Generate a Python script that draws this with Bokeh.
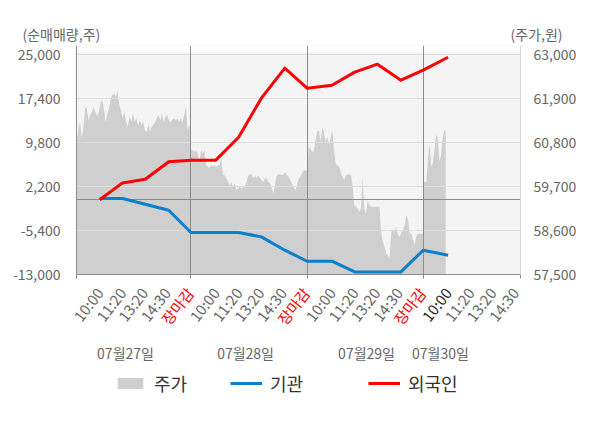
import numpy as np
from bokeh.plotting import figure
from bokeh.layouts import column
from bokeh.models import (Range1d, LinearAxis, FixedTicker, NumeralTickFormatter,
                          Legend, LegendItem, Plot)
from bokeh.core.properties import value
from bokeh.embed import file_html
from bokeh.resources import INLINE

# ---------------- data ----------------
DAYS = ["07월27일", "07월28일", "07월29일", "07월30일"]
TICK_LABELS = ["10:00", "11:20", "13:20", "14:30", "장마감"]
DAY4_TICKS = ["10:00", "11:20", "13:20", "14:30"]

# 순매매량 (주) at 10:00, 11:20, 13:20, 14:30, 장마감 of each day, then 07/30 10:00
INST = [110, 110, -870, -1910, -5760,
        -5760, -5760, -6510, -8810, -10710,
        -10710, -12550, -12550, -12550, -8810,
        -9670]
FOREIGN = [-100, 2800, 3440, 6460, 6720,
           6720, 10680, 17410, 22590, 19140,
           19650, 21900, 23280, 20520, 22240,
           24480]

# intraday price (원)
PRICE_D1 = [60900, 60770, 61100, 61310, 60900, 61150, 61690, 61640, 61350, 61480,
            61560, 61690, 61560, 61440, 61560, 61770, 61870, 61640, 61310, 61520,
            61640, 61890, 61980, 62020, 61940, 62090, 61730, 61600, 61400, 61560,
            61310, 61190, 61440, 61310, 61520, 61310, 61400, 61230, 61350, 61230,
            61310, 61100, 61060, 61230, 61060, 61190, 61230, 61310, 61400, 61480,
            61350, 61520, 61310, 61440, 61480, 61350, 61310, 61350, 61400, 61350,
            61400, 61310, 61400, 61310, 61480, 61690, 61100, 61230, 60980]
PRICE_D2 = [60600, 60600, 60560, 60600, 60520, 60310, 60600, 60520, 60600, 60230,
            60190, 60150, 60230, 60190, 60230, 60190, 60230, 60230, 60400, 59980,
            59980, 59900, 59810, 59730, 59810, 59690, 59770, 59600, 59650, 59690,
            59650, 59690, 59690, 59810, 59980, 60000, 60000, 59900, 59980, 59900,
            59980, 59900, 59850, 59810, 59900, 59900, 59810, 59770, 59650, 59520,
            59770, 59980, 60000, 60000, 59980, 60000, 60060, 59980, 59940, 59850,
            59770, 59690, 59600, 59730, 59900, 59940, 60020, 60100, 60100, 60100]
PRICE_D3 = [60100, 60690, 60640, 60560, 60600, 60850, 61060, 61100, 60810, 61190,
            61060, 60810, 60940, 60730, 60900, 61100, 60600, 60270, 60230, 60190,
            60060, 59940, 59850, 59980, 60000, 60000, 59980, 59770, 59230, 59190,
            59150, 59060, 59150, 59900, 59150, 59020, 59360, 59230, 59190, 59190,
            59190, 59190, 59190, 59190, 58560, 58310, 58190, 58020, 57980, 57900,
            58560, 58610, 58560, 58690, 58480, 58440, 58560, 58610, 58730, 58980,
            58860, 58520, 58520, 58360, 58230, 58480, 58520, 58520, 58520, 58520]
PRICE_D4 = [59810, 59810, 59810, 60440, 60770, 60190, 60270, 60600, 60980, 60940,
            60310, 60440, 60850, 61100, 61060]

LEFT_TICKS = [-13000, -5400, 2200, 9800, 17400, 25000]
RIGHT_TICKS = [57500, 58600, 59700, 60800, 61900, 63000]

# ---------------- layout ----------------
W = 600
TOP_H = 45
BL, BR, BB = 76, 80, 10
FRAME_H = 229
MAIN_H = FRAME_H + BB
BOT_H = 428 - TOP_H - MAIN_H
FRAME_W = W - BL - BR
BOT_Y0 = TOP_H + MAIN_H               # page y where the bottom panel starts

X0 = 0.069
X1 = X0 + FRAME_W / 23.22
XPX = (X1 - X0) / FRAME_W            # x units per pixel
XL = X0 - BL * XPX                    # full-width ranges with the same scale
XR = X1 + BR * XPX
L0 = -13000
L1 = L0 + FRAME_H * 172.49
P0 = 57500
P1 = P0 + FRAME_H * 24.966
PLOT_TOP = 25400
DAY_LEN = 5
POINT_SLOTS = [1.07, 2.05, 3.03, 4.04, 5.0]
LABEL_SLOTS = [1.06, 2.04, 2.98, 3.95, 4.95]
DAY4_SPAN = 0.97
DATE_POS = [2.18, 7.35, 12.56, 15.74]

FONT = "Noto Sans CJK KR"
GRAY_TXT = "#666666"
AREA_COL = "#cfcfcf"
BLUE = "#0a7fcc"
RED = "#ff0000"

HAS_FRAME_ALIGN = "frame_align" in Plot.properties()

# x positions
net_x = [d * DAY_LEN + POINT_SLOTS[i % 5] for d in range(4) for i in range(5)][:len(INST)]

px_list, pp_list = [], []
for d, arr in enumerate([PRICE_D1, PRICE_D2, PRICE_D3]):
    px_list.append(np.linspace(d * DAY_LEN, (d + 1) * DAY_LEN, len(arr)))
    pp_list.append(np.array(arr, dtype=float))
px_list.append(np.linspace(3 * DAY_LEN, 3 * DAY_LEN + DAY4_SPAN, len(PRICE_D4)))
pp_list.append(np.array(PRICE_D4, dtype=float))
price_x = np.concatenate(px_list)
price_y = np.concatenate(pp_list)


def bare(fig):
    fig.axis.visible = False
    fig.xgrid.visible = False
    fig.ygrid.visible = False
    fig.outline_line_color = None
    fig.background_fill_color = "white"
    fig.border_fill_color = "white"
    if HAS_FRAME_ALIGN:
        fig.frame_align = False


# ---------------- top: axis titles ----------------
top = figure(width=W, height=TOP_H, output_backend="svg", toolbar_location=None,
             x_range=Range1d(XL, XR), y_range=Range1d(TOP_H, 0), min_border=0)
bare(top)
top.text(x=[XL + 22 * XPX], y=[33], text=["(순매매량,주)"], text_align="left",
         text_baseline="middle", text_font=value(FONT), text_font_size="14px",
         text_color=GRAY_TXT)
top.text(x=[XL + 562 * XPX], y=[33], text=["(주가,원)"], text_align="right",
         text_baseline="middle", text_font=value(FONT), text_font_size="14px",
         text_color=GRAY_TXT)

# ---------------- main chart ----------------
p = figure(width=W, height=MAIN_H, output_backend="svg", toolbar_location=None,
           x_range=Range1d(X0, X1), y_range=Range1d(L0, L1),
           min_border_left=BL, min_border_right=BR, min_border_top=0, min_border_bottom=BB,
           background_fill_color="#f4f4f4", border_fill_color="white",
           outline_line_color=None)
if HAS_FRAME_ALIGN:
    p.frame_align = False
p.extra_y_ranges = {"price": Range1d(P0, P1)}
p.xgrid.visible = False
p.ygrid.visible = False

p.quad(left=[X0], right=[X1], bottom=[PLOT_TOP], top=[L1], fill_color="white", line_color=None)
area = p.varea(x=price_x, y1=P0, y2=price_y, fill_color=AREA_COL, y_range_name="price")
p.hspan(y=LEFT_TICKS[1:], line_color="#dddddd", line_width=1)
p.hspan(y=[0], line_color="#8c8c8c", line_width=1)
p.vspan(x=[DAY_LEN, 2 * DAY_LEN, 3 * DAY_LEN], line_color="#8c8c8c", line_width=1)
p.line(net_x, INST, line_color=BLUE, line_width=3, line_join="round")
p.line(net_x, FOREIGN, line_color=RED, line_width=3, line_join="round")

ya = p.yaxis[0]
ya.ticker = FixedTicker(ticks=LEFT_TICKS)
ya.formatter = NumeralTickFormatter(format="0,0")
ya.axis_line_color = "#8c8c8c"
ya.major_tick_line_color = None
ya.minor_tick_line_color = None
ya.major_label_standoff = 10
ya.major_label_text_font = FONT
ya.major_label_text_font_size = "14px"
ya.major_label_text_color = GRAY_TXT

ra = LinearAxis(y_range_name="price")
ra.ticker = FixedTicker(ticks=RIGHT_TICKS)
ra.formatter = NumeralTickFormatter(format="0,0")
ra.axis_line_color = "#d9d9d9"
ra.major_tick_line_color = None
ra.minor_tick_line_color = None
ra.major_label_standoff = 7
ra.major_label_text_font = FONT
ra.major_label_text_font_size = "14px"
ra.major_label_text_color = GRAY_TXT
p.add_layout(ra, "right")

xa = p.xaxis[0]
xa.ticker = FixedTicker(ticks=[], minor_ticks=[X0, DAY_LEN, 2 * DAY_LEN, 3 * DAY_LEN, X1])
xa.axis_line_color = "#8c8c8c"
xa.major_tick_line_color = None
xa.minor_tick_line_color = "#8c8c8c"
xa.minor_tick_out = 4
xa.minor_tick_in = 0
xa.major_tick_out = 0
xa.major_label_standoff = 0

# ---------------- bottom: time labels, dates, legend ----------------
bot = figure(width=W, height=BOT_H, output_backend="svg", toolbar_location=None,
             x_range=Range1d(XL, XR), y_range=Range1d(BOT_H, 0), min_border=0)
bare(bot)

lx, lt, lc = [], [], []
for d in range(4):
    labels = TICK_LABELS if d < 3 else DAY4_TICKS
    for s, t in enumerate(labels):
        lx.append(d * DAY_LEN + LABEL_SLOTS[s])
        lt.append(t)
        if t == "장마감":
            lc.append(RED)
        elif d == 3 and s == 0:
            lc.append("#222222")
        else:
            lc.append(GRAY_TXT)
bot.text(x=lx, y=[289 - BOT_Y0] * len(lx), text=lt, angle=0.91, text_align="right",
         text_baseline="middle", text_font=value(FONT), text_font_size="15px",
         text_color=lc)

bot.text(x=DATE_POS, y=[352 - BOT_Y0] * len(DATE_POS), text=DAYS, text_align="center",
         text_baseline="middle", text_font=value(FONT), text_font_size="14px",
         text_color=GRAY_TXT)

# legend proxies (same styles as the chart renderers), kept outside the visible range
off_x = [XR + 1, XR + 2]
l_area = bot.varea(x=off_x, y1=[0, 0], y2=[1, 1], fill_color=AREA_COL)
l_inst = bot.line(x=off_x, y=[0, 0], line_color=BLUE, line_width=3)
l_forg = bot.line(x=off_x, y=[0, 0], line_color=RED, line_width=3)

leg_y = BOT_H - (385 - BOT_Y0) - 11


def mk_legend(label, r, xpix):
    lg = Legend(items=[LegendItem(label=label, renderers=[r])], location=(xpix, leg_y),
                orientation="horizontal", glyph_width=32, glyph_height=14,
                label_standoff=8, label_text_font=FONT, label_text_font_size="18px",
                label_text_color="#333333", padding=0, margin=0, spacing=0,
                border_line_color=None, background_fill_alpha=0)
    bot.add_layout(lg)


mk_legend("주가", l_area, 114)
mk_legend("기관", l_inst, 230)
mk_legend("외국인", l_forg, 368)

layout = column(top, p, bot, spacing=0)
open("out.html", "w").write(file_html(layout, INLINE))
